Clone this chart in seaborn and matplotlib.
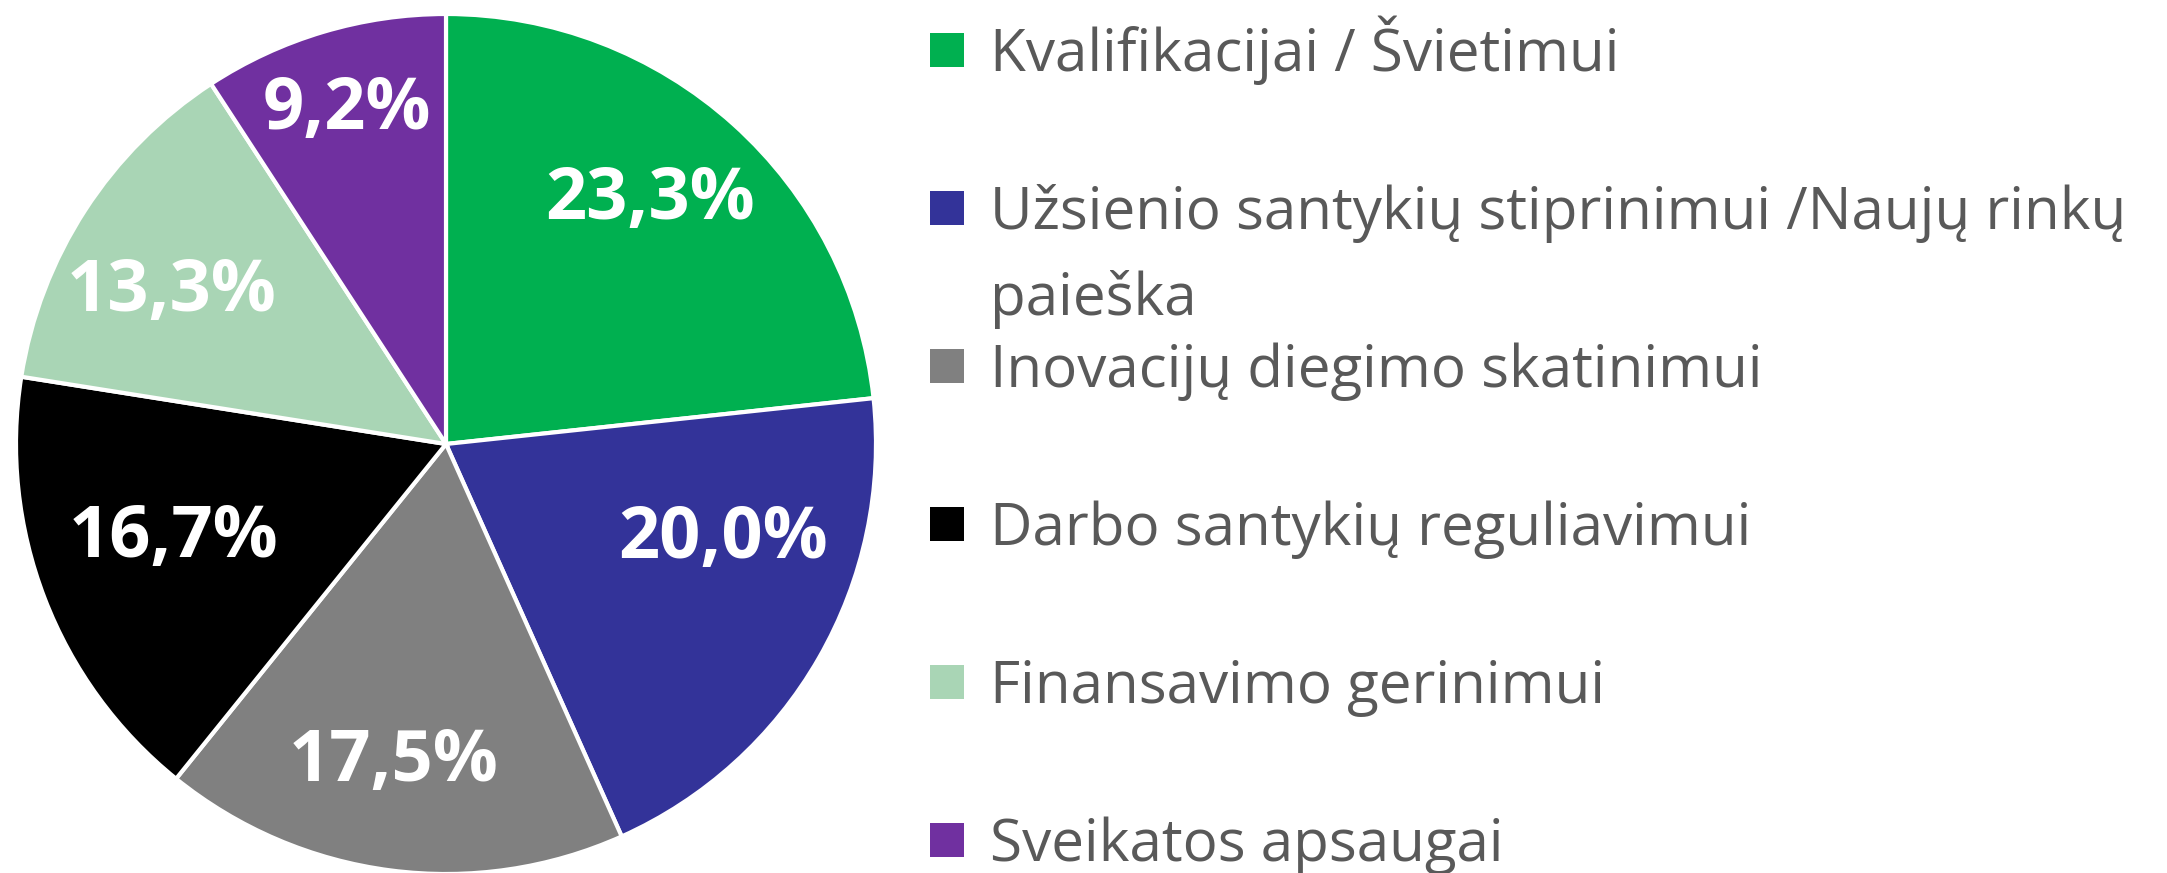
import matplotlib
matplotlib.use('Agg')
import matplotlib.pyplot as plt
from matplotlib.patches import Rectangle
import numpy as np
import seaborn as sns

categories = ['Kvalifikacijai / Švietimui',
              'Užsienio santykių stiprinimui /Naujų rinkų\npaieška',
              'Inovacijų diegimo skatinimui',
              'Darbo santykių reguliavimui',
              'Finansavimo gerinimui',
              'Sveikatos apsaugai']
shares = [23.3, 20.0, 17.5, 16.7, 13.3, 9.2]
colors = ['#00B050', '#333399', '#808080', '#000000', '#A9D5B5', '#7030A0']

# label placement as Excel's "best fit" put them: radius fraction, turn from slice middle (deg)
label_r = [0.74, 0.68, 0.75, 0.67, 0.73, 0.81]
label_turn = [2, 11, -2, -2, 4, 0]

sns.set_theme(style='white')
plt.rcParams['font.family'] = ['Open Sans', 'DejaVu Sans']

W, H = 2167, 873
fig = plt.figure(figsize=(W / 100, H / 100), dpi=100)

# pie
ax = fig.add_axes([16 / W, -1 / H, 860 / W, 860 / H])
palette = sns.color_palette(colors)
wedges, texts, autotexts = ax.pie(
    shares, colors=palette, startangle=90, counterclock=False,
    autopct=lambda p: f'{p:.1f}%'.replace('.', ','), pctdistance=0.72,
    wedgeprops=dict(edgecolor='white', linewidth=3),
    textprops=dict(color='white', fontsize=52, fontweight='bold'))
for w, t, r, turn in zip(wedges, autotexts, label_r, label_turn):
    a = np.deg2rad((w.theta1 + w.theta2) / 2 + turn)
    t.set_position((r * np.cos(a), r * np.sin(a)))
ax.set_xlim(-1, 1)
ax.set_ylim(-1, 1)
ax.set_aspect('equal')

# legend, drawn by hand in pixel coords so the wrapped entry keeps its marker on line one
lax = fig.add_axes([0, 0, 1, 1])
lax.set_xlim(0, W)
lax.set_ylim(H, 0)
lax.axis('off')
rows = np.linspace(50, 840, len(categories))
for y, label, c in zip(rows, categories, palette):
    lax.add_patch(Rectangle((930, y - 17), 34, 34, color=c, lw=0))
    for j, line in enumerate(label.split('\n')):
        lax.text(990, y + 21 + j * 86, line, fontsize=42, color='#595959', va='baseline')

plt.savefig('out.png', dpi=100, facecolor='white')
plt.close()
